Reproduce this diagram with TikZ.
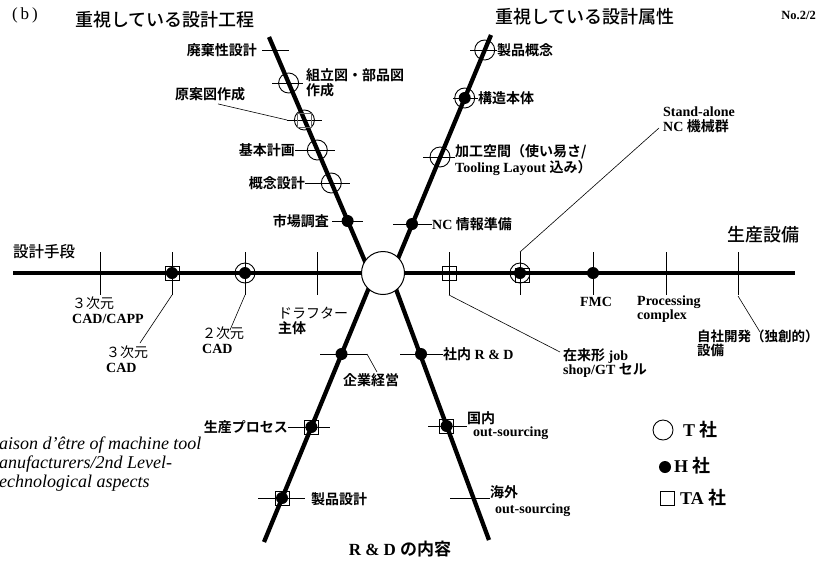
\documentclass[tikz,border=0pt]{standalone}
\usepackage{fontspec}
\setmainfont{Liberation Serif}
\newfontfamily\jp{Noto Sans CJK JP}[BoldFont={Noto Sans CJK JP Bold}]
\newfontfamily\jpm{Noto Sans CJK JP Medium}
\newcommand\J[1]{{\jp #1}}
\tikzset{
 ax/.style={line width=4.3pt},
 tk/.style={line width=0.8pt},
 ld/.style={line width=0.6pt},
 mT/.style={circle,draw,line width=0.9pt,minimum size=20pt,inner sep=0pt},
 mH/.style={circle,fill,minimum size=12pt,inner sep=0pt},
 mA/.style={rectangle,draw,line width=0.8pt,minimum size=14pt,inner sep=0pt},
 lb/.style={inner sep=0pt,align=left,font=\fontsize{14}{14.5}\selectfont\bfseries},
 ttl/.style={inner sep=0pt,font=\fontsize{18}{20}\selectfont\jpm},
 lg/.style={inner sep=0pt,font=\fontsize{18}{19}\selectfont\bfseries},
}
\begin{document}
\begin{tikzpicture}[x=1pt,y=-1pt]
\useasboundingbox (0,0) rectangle (818,571);
% axes
\draw[ax] (13,273) -- (795,273);
\draw[ax] (269,37) -- (370,273);
\draw[ax] (491,35) -- (392,273);
\draw[ax] (264,542) -- (375,273);
\draw[ax] (489,540) -- (390,273);
\node[circle,draw,fill=white,line width=1pt,minimum size=43pt,inner sep=0pt] (hub) at (383,273) {};
% ticks on the horizontal axis
\foreach \x in {100,172,245,317,449,520,593,666,738} \draw[tk] (\x,252) -- (\x,295);
% ticks on the diagonals
\draw[tk] (262,50) -- (289,50);
\draw[tk] (272,83) -- (303,83);
\draw[tk] (287,120) -- (322,120);
\draw[tk] (295,150) -- (335,150);
\draw[tk] (305,183) -- (350,183);
\draw[tk] (332,221) -- (363,221);
\draw[tk] (470,50) -- (497,50);
\draw[tk] (453,98) -- (478,98);
\draw[tk] (423,157) -- (455,157);
\draw[tk] (393,224) -- (432,224);
\draw[tk] (320,354) -- (367,354);
\draw[tk] (288,427) -- (330,427);
\draw[tk] (258,498) -- (305,498);
\draw[tk] (400,354) -- (443,354);
\draw[tk] (428,426) -- (467,426);
\draw[tk] (450,498) -- (490,498);
% markers
\node[mT] (u2) at (288.6,83) {};
\node[mT] (u3) at (304.4,120) {};
\node[mA,draw=black!60] (u3a) at (304.4,120) {};
\node[mT] (u4) at (317.3,150) {};
\node[mT] (u5) at (331.3,183) {};
\node[mH] (u6) at (347.6,221) {};
\node[mT] (r1) at (484.7,50) {};
\node[mT] (r2) at (464.7,98) {};
\node[mH] (r2h) at (464.7,98) {};
\node[mT] (r3) at (440,157) {};
\node[mH] (r4) at (412,224) {};
\node[mH] (l1) at (341.5,354) {};
\node[mA] (l2a) at (311.4,427) {};
\node[mH] (l2) at (311.4,427) {};
\node[mA] (l3a) at (282,498) {};
\node[mH] (l3) at (282,498) {};
\node[mH] (d1) at (421,354) {};
\node[mA] (d2a) at (446.6,426) {};
\node[mH] (d2) at (446.6,426) {};
\node[mA] (h2a) at (172,273) {};
\node[mH] (h2) at (172,273) {};
\node[mT] (h3t) at (245,273) {};
\node[mH] (h3) at (245,273) {};
\node[mA] (h5) at (449,273) {};
\node[mA] (h6a) at (522,275) {};
\node[mT] (h6t) at (520,273) {};
\node[mH] (h6) at (520,273) {};
\node[mH] (h7) at (593,273) {};
% titles
\node[inner sep=0pt,anchor=west,font=\fontsize{17}{18}\selectfont] (fig) at (12,15) {(\,b\,)};
\node[ttl] (t1) at (165,20) {重視している設計工程};
\node[ttl] (t2) at (585,17) {重視している設計属性};
\node[ttl,anchor=west,font=\fontsize{15.5}{17}\selectfont\jpm] (t3) at (13,252) {設計手段};
\node[ttl] (t4) at (763,235) {生産設備};
\node[inner sep=0pt,font=\fontsize{17}{18}\selectfont\bfseries] (t5) at (400,549) {R \& D \J{の内容}};
\node[inner sep=0pt,anchor=east,font=\fontsize{12.5}{14}\selectfont\bfseries] (no) at (816,15) {No.2/2};
% labels upper left
\node[lb,anchor=east] (a1) at (257,50) {\J{廃棄性設計}};
\node[lb,anchor=west] (a2) at (306,83) {\J{組立図・部品図}\\\J{作成}};
\node[lb] (a3) at (210,94) {\J{原案図作成}};
\draw[ld] (a3.south) ++(8,3) coordinate (a3s) -- (287,120);
\node[lb,anchor=east] (a4) at (295,150) {\J{基本計画}};
\node[lb,anchor=east] (a5) at (305,183) {\J{概念設計}};
\node[lb,anchor=east] (a6) at (329,221) {\J{市場調査}};
% labels upper right
\node[lb,anchor=west] (b1) at (497,50) {\J{製品概念}};
\node[lb,anchor=west] (b2) at (478,98) {\J{構造本体}};
\node[lb,anchor=west] (b3) at (455,160) {\J{加工空間（使い易さ/}\\Tooling Layout \J{込み）}};
\node[lb,anchor=west] (b4) at (432,224) {NC \J{情報準備}};
% labels lower left
\node[lb] (c1) at (371,380) {\J{企業経営}};
\draw[ld] (367,354) -- (377,372);
\node[lb,anchor=east] (c2) at (288,427) {\J{生産プロセス}};
\node[lb,anchor=west] (c3) at (311,499) {\J{製品設計}};
% labels lower right
\node[lb,anchor=west] (e1) at (443,354) {\J{社内} R \& D};
\node[lb,anchor=west] (e2) at (467,418) {\J{国内}};
\node[lb,anchor=west] (e2b) at (473,433) {out-sourcing};
\node[lb,anchor=west] (e3) at (490,492) {\J{海外}};
\node[lb,anchor=west] (e3b) at (495,510) {out-sourcing};
% labels horizontal axis
\node[lb,anchor=west] (g1) at (72,310) {\J{\mdseries ３次元}\\CAD/CAPP};
\node[lb,anchor=west] (g2) at (106,359) {\J{\mdseries ３次元}\\CAD};
\draw[ld] (172,295) -- (140,343);
\node[lb,anchor=west] (g3) at (202,340) {\J{\mdseries ２次元}\\CAD};
\draw[ld] (245,295) -- (230,330);
\node[lb,anchor=west] (g4) at (278,321) {\J{\mdseries ドラフター}\\\J{主体}};
\node[lb,anchor=west] (g5) at (563,363) {\J{在来形} job\\shop/GT \J{セル}};
\draw[ld] (449,295) -- (560,352);
\node[lb,anchor=west] (g6) at (663,120) {Stand-alone\\NC \J{機械群}};
\draw[ld] (520,252) -- (659,128);
\node[lb] (g7) at (596,302) {FMC};
\node[lb,anchor=west] (g8) at (637,309) {Processing\\complex};
\node[lb,anchor=west,font=\fontsize{13.5}{14}\selectfont\bfseries] (g9) at (697,343) {\J{自社開発（独創的）}\\\J{設備}};
\draw[ld] (738,296) -- (760,332);
% italic note
\node[inner sep=0pt,anchor=west,align=left,font=\fontsize{18}{19}\selectfont\itshape] (rai) at (-1,464) {aison d'être of machine tool\\anufacturers/2nd Level-\\echnological aspects};
% legend
\node[mT] (k1) at (663,430) {};
\node[lg,anchor=west] (k1t) at (683,430) {T \J{社}};
\node[mH] (k2) at (665,467) {};
\node[lg,anchor=west] (k2t) at (674,466) {H \J{社}};
\node[mA] (k3) at (667,498) {};
\node[lg,anchor=west] (k3t) at (680,498) {TA \J{社}};
\end{tikzpicture}
\end{document}
